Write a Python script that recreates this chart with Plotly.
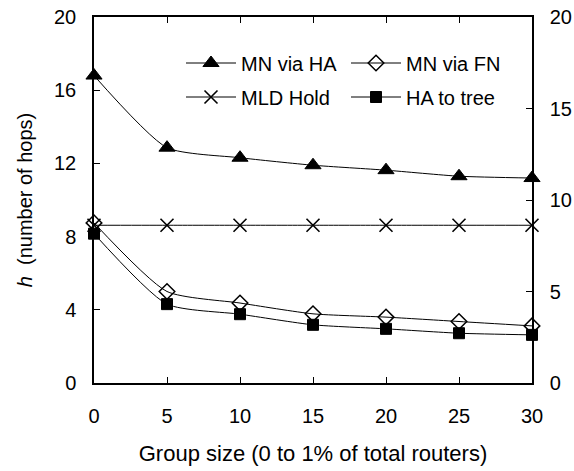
import plotly.graph_objects as go

group_size = [0, 5, 10, 15, 20, 25, 30]
mn_via_ha = [16.8, 12.86, 12.31, 11.9, 11.63, 11.3, 11.2]
mn_via_fn = [8.75, 5.0, 4.37, 3.78, 3.6, 3.36, 3.12]
mld_hold = [8.62, 8.62, 8.62, 8.62, 8.62, 8.62, 8.62]
ha_to_tree = [8.16, 4.31, 3.76, 3.18, 2.96, 2.72, 2.63]

left_ticks = [0, 4, 8, 12, 16, 20]
right_ticks = [0, 5, 10, 15, 20]
x_ticks = [0, 5, 10, 15, 20, 25, 30]

FONT = "Liberation Sans, Arial, sans-serif"
FS = 20

fig = go.Figure()

def add(name, y, symbol, size, legend, lw=1):
    fig.add_trace(go.Scatter(
        x=group_size, y=y, name=name, mode="lines+markers",
        line=dict(color="black", width=1, shape="spline", smoothing=0.6),
        marker=dict(symbol=symbol, size=size, color="black",
                    line=dict(color="black", width=lw)),
        cliponaxis=False, legend=legend,
    ))

add("MN via HA", mn_via_ha, "triangle-up", 14, "legend")
add("MN via FN", mn_via_fn, "diamond-open", 12, "legend", 1.5)
add("MLD Hold", mld_hold, "x-thin", 13, "legend2", 1.6)
add("HA to tree", ha_to_tree, "square", 11, "legend2")

# invisible trace so the secondary (right) axis is drawn
fig.add_trace(go.Scatter(x=group_size, y=mld_hold, mode="none", yaxis="y2",
                         showlegend=False, hoverinfo="skip"))

L, R, T, B = 94, 42, 17, 88

leg_common = dict(orientation="h", xref="paper", yref="paper", xanchor="left",
                  yanchor="middle", bgcolor="rgba(0,0,0,0)",
                  font=dict(family=FONT, size=FS, color="black"),
                  entrywidth=100, entrywidthmode="pixels", itemwidth=50)

fig.update_layout(
    width=574, height=471,
    margin=dict(l=L, r=R, t=T, b=B, autoexpand=False),
    paper_bgcolor="white", plot_bgcolor="white",
    font=dict(family=FONT, size=FS, color="black"),
    showlegend=True,
    legend=dict(x=(181 - L) / 438, y=(383 - 63) / 366, **leg_common),
    legend2=dict(x=(181 - L) / 438, y=(383 - 97) / 366, **leg_common),
    xaxis=dict(range=[0, 30], tickvals=x_ticks, ticks="inside", ticklen=6,
               showline=True, linecolor="black", linewidth=1.5, mirror="ticks",
               tickcolor="black", showgrid=False, zeroline=False,
               automargin=False, ticklabelstandoff=14,
               title=dict(text="Group size (0 to 1% of total routers)",
                          font=dict(family=FONT, size=22), standoff=20)),
    yaxis=dict(range=[0, 20], tickvals=left_ticks, ticks="inside", ticklen=6,
               showline=True, linecolor="black", linewidth=1.5,
               tickcolor="black", showgrid=False, zeroline=False,
               automargin=False, ticklabelstandoff=12,
               title=dict(text="<i>h</i>  (number of hops)",
                          font=dict(family=FONT, size=FS), standoff=16)),
    yaxis2=dict(range=[0, 20], tickvals=right_ticks, ticks="inside", ticklen=6,
                overlaying="y", side="right", anchor="x",
                showline=True, linecolor="black", linewidth=1.5,
                tickcolor="black", showgrid=False, zeroline=False,
                automargin=False, ticklabelstandoff=12),
)

fig.write_html("out.html", config={"displayModeBar": False},
               post_script="document.body.style.margin='0';"
                           "document.body.style.overflow='hidden';")
